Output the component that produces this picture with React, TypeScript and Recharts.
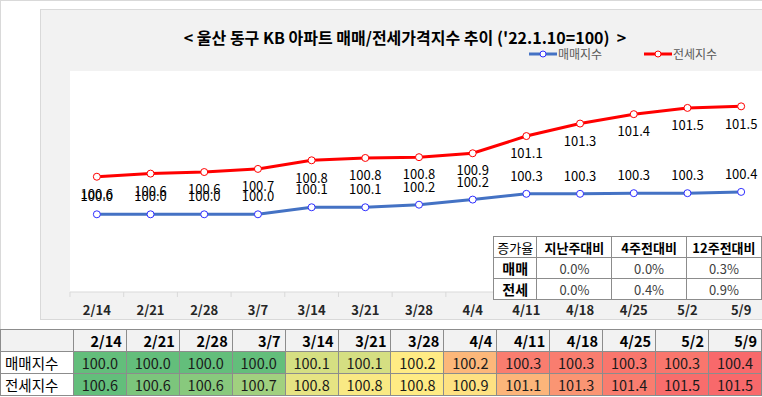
import { LineChart, Line, XAxis, YAxis, CartesianGrid, LabelList } from "recharts";

const DATES = ["2/14", "2/21", "2/28", "3/7", "3/14", "3/21", "3/28", "4/4", "4/11", "4/18", "4/25", "5/2", "5/9"];
const BUY_INDEX = [100.01, 100.01, 100.01, 100.01, 100.12, 100.12, 100.16, 100.24, 100.33, 100.33, 100.34, 100.34, 100.36];
const RENT_INDEX = [100.58, 100.62, 100.64, 100.68, 100.79, 100.82, 100.83, 100.88, 101.1, 101.26, 101.38, 101.46, 101.48];

const RATE_HEAD = "증가율";
const RATE_COLUMNS = ["지난주대비", "4주전대비", "12주전대비"];
const BUY_RATES = ["0.0%", "0.0%", "0.3%"];
const RENT_RATES = ["0.0%", "0.4%", "0.9%"];

const BUY_NAME = "매매지수";
const RENT_NAME = "전세지수";
const TITLE = "< 울산 동구 KB 아파트 매매/전세가격지수 추이 ('22.1.10=100)  >";

// the two series sit on separate hidden axes, like the original secondary axis
const BUY_DOMAIN = [98.796, 102.249];
const RENT_DOMAIN = [99.106, 101.932];

const FONT = "'Noto Sans CJK KR', 'Noto Sans', sans-serif";
const BUY_COLOR = "#4472c4";
const RENT_COLOR = "#ff0000";

const CHART_W = 780;
const PLOT_LEFT = 70;
const PLOT_RIGHT = 12;
const BAND = (CHART_W - PLOT_LEFT - PLOT_RIGHT) / DATES.length;

const data = DATES.map((date, i) => ({ date, buy: BUY_INDEX[i], rent: RENT_INDEX[i] }));

// Excel-style 3 colour scale (min / median / max) per row
const GREEN = [99, 190, 123];
const YELLOW = [255, 235, 132];
const RED = [248, 105, 107];

function mix(a: number[], b: number[], t: number) {
  const c = a.map((v, i) => Math.round(v + (b[i] - v) * t));
  return `rgb(${c[0]},${c[1]},${c[2]})`;
}

function scaleColor(v: number, row: number[]) {
  const sorted = [...row].sort((a, b) => a - b);
  const min = sorted[0];
  const max = sorted[sorted.length - 1];
  const mid = sorted[Math.floor(sorted.length / 2)];
  if (v <= mid) return mix(GREEN, YELLOW, mid === min ? 1 : (v - min) / (mid - min));
  return mix(YELLOW, RED, (v - mid) / (max - mid));
}

function DateTick({ x, y, payload }: any) {
  return (
    <g>
      <line x1={x - BAND / 2} x2={x - BAND / 2} y1={y} y2={y + 5} stroke="#d9d9d9" />
      <text x={x} y={y + 23} textAnchor="middle" fontFamily={FONT} fontSize={13} fontWeight={700} fill="#262626">
        {payload.value}
      </text>
    </g>
  );
}

function LegendItem({ left, color, label }: { left: number; color: string; label: string }) {
  return (
    <div style={{ position: "absolute", left, top: 45, display: "flex", alignItems: "center" }}>
      <svg width={28} height={12}>
        <line x1={0} x2={28} y1={6} y2={6} stroke={color} strokeWidth={3} />
        <circle cx={14} cy={6} r={3} fill="#fff" stroke={color === BUY_COLOR ? "#2e2eff" : color} strokeWidth={1} />
      </svg>
      <span style={{ fontSize: 12, color: "#595959", marginLeft: 1 }}>{label}</span>
    </div>
  );
}

const cell = { border: "1px solid #8c8c8c", padding: 0, overflow: "hidden", whiteSpace: "nowrap" as const };

export default function App() {
  return (
    <div style={{ position: "relative", width: 762, height: 397, overflow: "hidden", background: "#fff", fontFamily: FONT }}>
      <style>{"body{margin:0}"}</style>
      <div style={{ position: "absolute", left: 0, top: 0, width: 762, height: 1, background: "#d9d9d9" }} />
      <div style={{ position: "absolute", left: 0, top: 0, width: 1, height: 330, background: "#d9d9d9" }} />

      <div style={{ position: "absolute", left: 40, top: 9, width: 760, height: 309, background: "#f2f2f2", border: "1px solid #d9d9d9" }} />

      <div style={{ position: "absolute", left: 40, top: 25, width: 730, textAlign: "center", fontSize: 16, fontWeight: 700, color: "#000", whiteSpace: "pre" }}>
        {TITLE}
      </div>
      <LegendItem left={529} color={BUY_COLOR} label={BUY_NAME} />
      <LegendItem left={644} color={RENT_COLOR} label={RENT_NAME} />

      <div style={{ position: "absolute", left: 0, top: 0 }}>
        <LineChart width={CHART_W} height={330} data={data} margin={{ top: 71, right: PLOT_RIGHT, bottom: 8, left: PLOT_LEFT }}>
          <CartesianGrid fill="#fff" stroke="none" horizontal={false} vertical={false} />
          <XAxis
            dataKey="date"
            height={30}
            interval={0}
            padding={{ left: BAND / 2, right: BAND / 2 }}
            axisLine={{ stroke: "#d9d9d9" }}
            tickLine={false}
            tickSize={0}
            tickMargin={0}
            tick={<DateTick />}
          />
          <YAxis yAxisId="buy" type="number" hide domain={BUY_DOMAIN} />
          <YAxis yAxisId="rent" type="number" hide domain={RENT_DOMAIN} />
          <Line
            yAxisId="buy"
            dataKey="buy"
            stroke={BUY_COLOR}
            strokeWidth={3}
            dot={{ r: 3.5, fill: "#fff", stroke: "#2e2eff", strokeWidth: 1 }}
            isAnimationActive={false}
          >
            <LabelList dataKey="buy" position="top" offset={13} formatter={(v: any) => Number(v).toFixed(1)} fill="#000" fontSize={13} fontFamily={FONT} />
          </Line>
          <Line
            yAxisId="rent"
            dataKey="rent"
            stroke={RENT_COLOR}
            strokeWidth={3}
            dot={{ r: 3.5, fill: "#fff", stroke: RENT_COLOR, strokeWidth: 1 }}
            isAnimationActive={false}
          >
            <LabelList dataKey="rent" position="bottom" offset={13} formatter={(v: any) => Number(v).toFixed(1)} fill="#000" fontSize={13} fontFamily={FONT} />
          </Line>
        </LineChart>
      </div>

      <table style={{ position: "absolute", left: 493, top: 236, borderCollapse: "collapse", tableLayout: "fixed", background: "#fff", fontSize: 13 }}>
        <colgroup>
          <col style={{ width: 44 }} />
          <col style={{ width: 76 }} />
          <col style={{ width: 76 }} />
          <col style={{ width: 76 }} />
        </colgroup>
        <tbody>
          <tr style={{ height: 21 }}>
            <td style={{ ...cell, textAlign: "center" }}>{RATE_HEAD}</td>
            {RATE_COLUMNS.map((c) => (
              <td key={c} style={{ ...cell, textAlign: "center", fontWeight: 700 }}>{c}</td>
            ))}
          </tr>
          {[["매매", BUY_RATES], ["전세", RENT_RATES]].map(([name, rates]) => (
            <tr key={name as string} style={{ height: 21 }}>
              <td style={{ ...cell, textAlign: "center", fontWeight: 700, fontSize: 14 }}>{name as string}</td>
              {(rates as string[]).map((r, i) => (
                <td key={i} style={{ ...cell, textAlign: "center", fontSize: 13, color: "#404040" }}>{r}</td>
              ))}
            </tr>
          ))}
        </tbody>
      </table>

      <table style={{ position: "absolute", left: 0, top: 329, borderCollapse: "collapse", tableLayout: "fixed", fontSize: 14.5 }}>
        <colgroup>
          <col style={{ width: 73 }} />
          {DATES.map((d) => (
            <col key={d} style={{ width: 53 }} />
          ))}
        </colgroup>
        <tbody>
          <tr style={{ height: 22, background: "#f2f2f2" }}>
            <td style={cell} />
            {DATES.map((d) => (
              <td key={d} style={{ ...cell, textAlign: "right", paddingRight: 4, fontWeight: 700, color: "#000" }}>{d}</td>
            ))}
          </tr>
          {[[BUY_NAME, BUY_INDEX], [RENT_NAME, RENT_INDEX]].map(([name, row]) => (
            <tr key={name as string} style={{ height: 22 }}>
              <td style={{ ...cell, background: "#fff", paddingLeft: 4, color: "#000" }}>{name as string}</td>
              {(row as number[]).map((v, i) => (
                <td key={i} style={{ ...cell, textAlign: "center", background: scaleColor(v, row as number[]), color: "#1a1a1a" }}>
                  {v.toFixed(1)}
                </td>
              ))}
            </tr>
          ))}
        </tbody>
      </table>
    </div>
  );
}
